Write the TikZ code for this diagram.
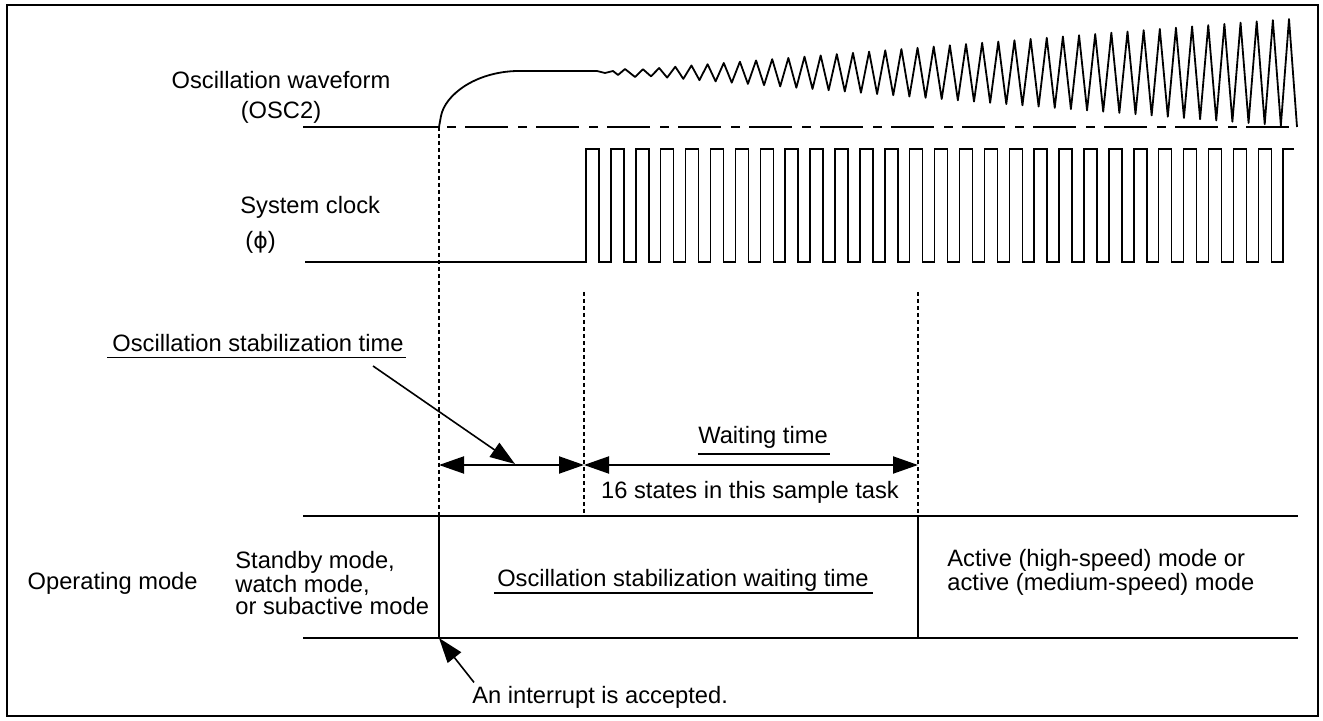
\documentclass[tikz,border=0pt]{standalone}
\usepackage{fontspec}
\setmainfont{Liberation Sans}
\newfontfamily\phifont{DejaVu Sans}
\usetikzlibrary{calc,arrows.meta}

\begin{document}
\begin{tikzpicture}[x=0.5pt,y=-0.5pt,
  font=\fontsize{11.85}{10.85}\selectfont,
  lbl/.style={inner sep=0pt},
  wave/.style={line width=0.9pt,line join=round},
  clk/.style={line width=0.75pt},
  rule/.style={line width=1pt},
  guide/.style={line width=0.7pt,dash pattern=on 2pt off 1.5pt},
  uline/.style={line width=0.8pt},
  dimarrow/.style={line width=1pt,{Triangle[length=12.5pt,width=8.5pt]}-{Triangle[length=12.5pt,width=8.5pt]}},
  ptr/.style={line width=0.8pt,-{Triangle[length=12.5pt,width=8.5pt]}}]

\useasboundingbox (0,0) rectangle (1323,721);
\draw[line width=1.3pt] (7,5) rectangle (1318,716);

% time marks
\coordinate (t0) at (439,127);
\coordinate (t1) at (584,292);
\coordinate (t2) at (918,292);
\coordinate (mtop) at (303,516);
\coordinate (mbot) at (303,638);
\coordinate (dim) at (0,465);

% signal names
\node[lbl,align=center,font=\fontsize{11.85}{15}\selectfont] (osc) at (281,97) {Oscillation waveform\\(OSC2)};
\node[lbl,align=left,anchor=west,font=\fontsize{11.85}{17.5}\selectfont] (sys) at (240,225) {System clock\\\hspace{2.5pt}({\phifont\fontsize{11}{11}\selectfont ϕ})};

% oscillation waveform
\draw[wave] (303,127) -- (t0);
\draw[wave,dash pattern=on 21.5pt off 5pt on 4.5pt off 4.5pt,dash phase=22.5pt] (t0) -- (1298,127);
\draw[wave] (t0) -- (441,116) .. controls (445,95) and (475,72) .. (517,71) -- (597,71)
  -- (605,73) -- (613,71) -- (618,75) -- (625,69) -- (635,77)
  foreach \k in {0,...,39} {
    -- ({643+16.15*\k},{69.5-(3+16.15*\k)*0.078})
    -- ({651+16.15*\k},{min(75.5+(11+16.15*\k)*0.078,127)})
  } -- (1289,19) -- (1297,127);

% system clock
\draw[clk] (305,262) foreach \k in {0,...,27} {
    -- ({586+24.9*\k},262) -- ({586+24.9*\k},149)
    -- ({599+24.9*\k},149) -- ({599+24.9*\k},262)
  } -- (1283,262) -- (1283,149) -- (1294,149);

% guides
\draw[guide] (t0) -- (t0 |- mtop);
\draw[guide] (t1) -- (t1 |- mtop);
\draw[guide] (t2) -- (t2 |- mtop);

% mode table
\draw[rule] (mtop) -- (1298,516);
\draw[rule] (mbot) -- (1298,638);
\draw[rule] (t0 |- mtop) -- (t0 |- mbot);
\draw[rule] (t2 |- mtop) -- (t2 |- mbot);

% durations
\draw[dimarrow] (t0 |- dim) -- (t1 |- dim);
\draw[dimarrow] (t1 |- dim) -- (t2 |- dim);

\node[lbl,anchor=base] (stab) at (258,351.5) {Oscillation stabilization time};
\draw[uline] ($(stab.base west)+(-5,6)$) -- ($(stab.base east)+(2,6)$);
\coordinate (stabtail) at (373,366);
\coordinate (stabtip) at (515,464);
\draw[ptr] (stabtail) -- (stabtip);

\node[lbl,anchor=base] (wait) at (763,444) {Waiting time};
\draw[uline] ($(wait.base west)+(0,10)$) -- ($(wait.base east)+(2,10)$);
\node[lbl,anchor=base] (states) at (750,499) {16 states in this sample task};

% operating modes
\node[lbl,anchor=base east] (opmode) at (198,589) {Operating mode};
\node[lbl,align=left,anchor=west] (before) at (235,583) {Standby mode,\\watch mode,\\or subactive mode};
\node[lbl,anchor=base] (waitmode) at (683,586) {Oscillation stabilization waiting time};
\draw[uline] ($(waitmode.base west)+(-3,7)$) -- ($(waitmode.base east)+(4,7)$);
\node[lbl,align=left,anchor=west] (after) at (947,572) {Active (high-speed) mode or\\active (medium-speed) mode};

\node[lbl,anchor=base west] (irq) at (472,703) {An interrupt is accepted.};
\draw[ptr] ($(irq.north west)+(2,-3)$) -- (t0 |- mbot);
\end{tikzpicture}
\end{document}
